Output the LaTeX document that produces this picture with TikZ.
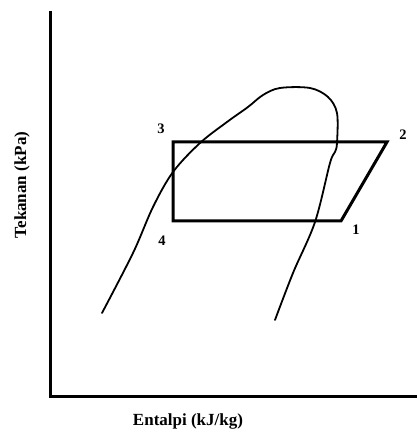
\documentclass[tikz,border=0pt]{standalone}
\usepackage{fontspec}
\setmainfont{Liberation Serif}
\usepackage{tikz}
\usetikzlibrary{positioning,calc}
\definecolor{ink}{HTML}{000000}
\tikzset{
  axisline/.style={draw=ink, line width=3pt},
  cycleline/.style={draw=ink, line width=3pt, line join=miter},
  domeline/.style={draw=ink, line width=1.8pt, line cap=round},
  ptlabel/.style={font=\bfseries\fontsize{14.5}{17}\selectfont, inner sep=0pt},
  axlabel/.style={font=\bfseries\fontsize{17}{20}\selectfont, inner sep=0pt}
}

\begin{document}
\begin{tikzpicture}[x=1pt,y=1pt]
  \useasboundingbox (0,0) rectangle (417,432);
  % axes
  \coordinate (top) at (50,421);
  \coordinate (orig) at (50,35);
  \coordinate (right) at (418,35);
  \draw[axisline] (top) -- (orig) -- (right);
  \node[axlabel] (xlab) at (188,11) {Entalpi (kJ/kg)};
  \node[axlabel, rotate=90] (ylab) at (22,247) {Tekanan (kPa)};
  % saturation dome
  \draw[domeline] plot[smooth, tension=0.55] coordinates {
    (102,119) (133,179) (153,225) (173,260) (200,289) (227,310)
    (248,325) (263,337) (280,344) (310,344) (328,335) (337,319)
    (337,289) (335,280) (330,269) (315,210) (293,159) (275,112)};
  % cycle
  \coordinate (p1) at (341,211);
  \coordinate (p2) at (387,290);
  \coordinate (p3) at (173,290);
  \coordinate (p4) at (173,211);
  \draw[cycleline] (p3) -- (p2) -- (p1) -- (p4) -- cycle;
  \node[ptlabel] (l1) at (356,202) {1};
  \node[ptlabel] (l2) at (403,297) {2};
  \node[ptlabel] (l3) at (161,303) {3};
  \node[ptlabel] (l4) at (162,191) {4};
\end{tikzpicture}
\end{document}
